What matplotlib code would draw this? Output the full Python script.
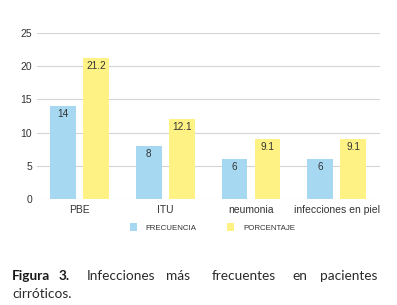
import numpy as np
import matplotlib.pyplot as plt

categories = ["PBE", "ITU", "neumonia", "infecciones en piel"]
frecuencia = [14, 8, 6, 6]
porcentaje = [21.2, 12.1, 9.1, 9.1]
series_names = ["FRECUENCIA", "PORCENTAJE"]
y_ticks = [0, 5, 10, 15, 20, 25]

BLUE = "#a6d9f1"
YELLOW = "#fef285"
TXT = "#333333"

plt.rcParams["font.family"] = ["Liberation Sans", "DejaVu Sans"]

fig = plt.figure(figsize=(3.97, 3.05), dpi=100)
ax = fig.add_axes([0.093, 0.3475, 0.864, 0.5443])

x = np.arange(len(categories))
w = 0.30
b1 = ax.bar(x - 0.195, frecuencia, w, color=BLUE, zorder=2, label=series_names[0])
b2 = ax.bar(x + 0.19, porcentaje, w, color=YELLOW, zorder=2, label=series_names[1])

for bars, vals in [(b1, frecuencia), (b2, porcentaje)]:
    for r, v in zip(bars, vals):
        ax.annotate(f"{v:g}", (r.get_x() + r.get_width() / 2, r.get_height()),
                    xytext=(0, -8), textcoords="offset pixels",
                    ha="center", va="center", fontsize=7.2, color=TXT, zorder=3)

ax.set_xlim(-0.5, 3.5)
ax.set_ylim(0, 25)
ax.set_yticks(y_ticks)
ax.grid(axis="y", color="#d4d4d4", linewidth=0.8, zorder=0)
for s in ax.spines.values():
    s.set_visible(False)
ax.tick_params(axis="both", length=0, labelsize=7.5, colors=TXT)
ax.tick_params(axis="y", pad=3.6)
ax.set_xticks(x)
ax.set_xticklabels(categories)
ax.tick_params(axis="x", pad=4)

fig.legend(handles=[b1, b2], loc="center", bbox_to_anchor=(0.535, 0.255),
           ncol=2, frameon=False, fontsize=5.7, handlelength=0.9, handleheight=1.2,
           columnspacing=3.9, handletextpad=1.1, labelcolor=TXT)

# caption, justified by hand
line1 = [("Figura", 12, True), ("3.", 59, True), ("Infecciones", 87, False),
         ("más", 166, False), ("frecuentes", 212, False), ("en", 292, False),
         ("pacientes", 320, False)]
for word, px, bold in line1:
    fig.text(px / 397, 1 - 280 / 305, word, fontsize=9.8,
             color="#1a1a1a" if bold else "#2b2b2b",
             fontweight="bold" if bold else "normal", family="Lato", va="baseline")
fig.text(12 / 397, 1 - 298 / 305, "cirróticos.", fontsize=9.8, color="#2b2b2b",
         family="Lato", va="baseline")

fig.savefig("out.png", dpi=100)
